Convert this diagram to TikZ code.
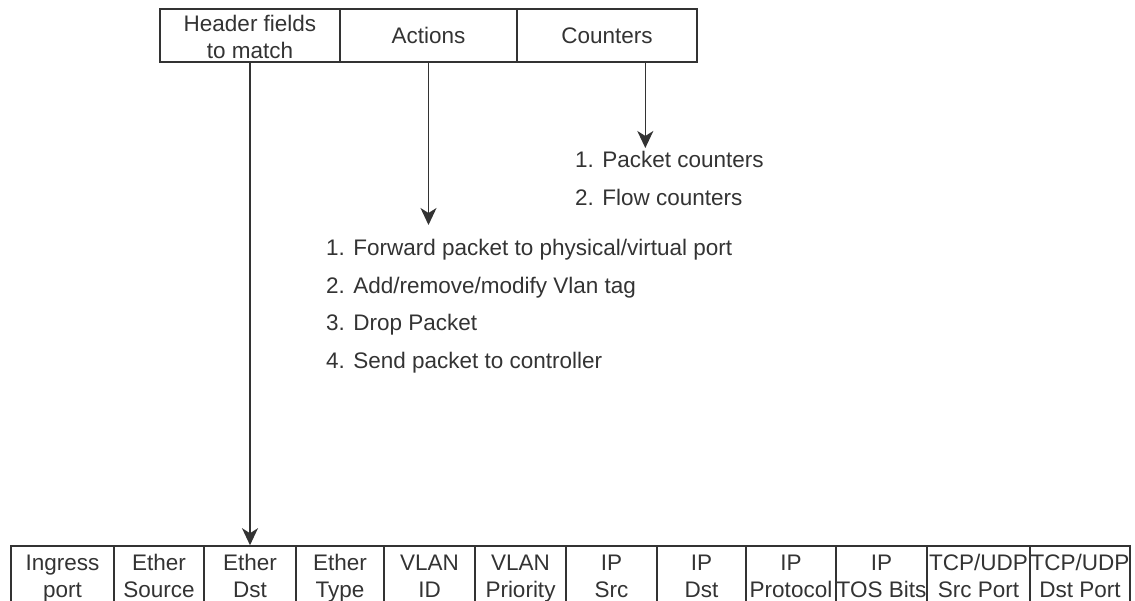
\documentclass[tikz,border=0pt]{standalone}
\usepackage{fontspec}
\setmainfont{Liberation Sans}
\usetikzlibrary{arrows.meta,calc}
\definecolor{ink}{HTML}{333333}
\begin{document}
\begin{tikzpicture}[x=1pt,y=1pt,
  txt/.style={text=ink, font=\fontsize{22.5}{27}\selectfont},
  hcell/.style={txt, draw=ink, line width=1.6pt, inner sep=0pt, align=center, minimum height=53pt},
  fcell/.style={txt, draw=ink, line width=1.6pt, inner sep=0pt, align=center, minimum height=66pt},
  listtext/.style={txt, inner sep=0pt, align=left, font=\fontsize{22.5}{37.5}\selectfont},
  arr/.style={draw=ink, line width=1.6pt, -{Stealth[length=17pt,width=16pt,inset=5pt]}}]
\useasboundingbox (0,0) rectangle (1135,-601);
\clip (0,0) rectangle (1135,-601);

% flow table entry
\node[hcell, minimum width=180pt] (hdr) at (250,-35.5)
  {\rule{0pt}{22pt}Header fields\\\rule[-3pt]{0pt}{3pt}to match};
\node[hcell, minimum width=177pt] (act) at (428.5,-35.5) {Actions};
\node[hcell, minimum width=180pt] (cnt) at (607,-35.5) {Counters};

% header fields of the entry
\foreach \i/\l/\r/\t in {
  1/11/114/{Ingress\\\strut port},
  2/114/204/{Ether\\\strut Source},
  3/204/296/{Ether\\\strut Dst},
  4/296/384/{Ether\\\strut Type},
  5/384/475/{VLAN\\\strut ID},
  6/475/566/{VLAN\\\strut Priority},
  7/566/657/{IP\\\strut Src},
  8/657/746/{IP\\\strut Dst},
  9/746/836/{IP\\\strut Protocol},
  10/836/927/{IP\\\strut TOS Bits},
  11/927/1030/{TCP/UDP\\\strut Src Port},
  12/1030/1130/{TCP/UDP\\\strut Dst Port}}{
  \node[fcell, minimum width={\r-\l}] (f\i) at ({(\l+\r)/2},-579) {\strut\t};
}

% action and counter lists
\node[listtext, anchor=north west] (alist) at (326,-239)
  {1. Forward packet to physical/virtual port\\
   2. Add/remove/modify Vlan tag\\
   3. Drop Packet\\
   4. Send packet to controller};
\node[listtext, anchor=north west] (clist) at (575,-151)
  {1. Packet counters\\
   2. Flow counters};

% connectors
\draw[arr] (hdr.south) -- (f3.north);
\draw[arr, shorten >=14pt] (act.south) -- (act.south |- alist.north);
\coordinate (cntout) at ($(cnt.south west)!0.711!(cnt.south east)$);
\draw[arr, shorten >=3pt] (cntout) -- (cntout |- clist.north);
\end{tikzpicture}
\end{document}
